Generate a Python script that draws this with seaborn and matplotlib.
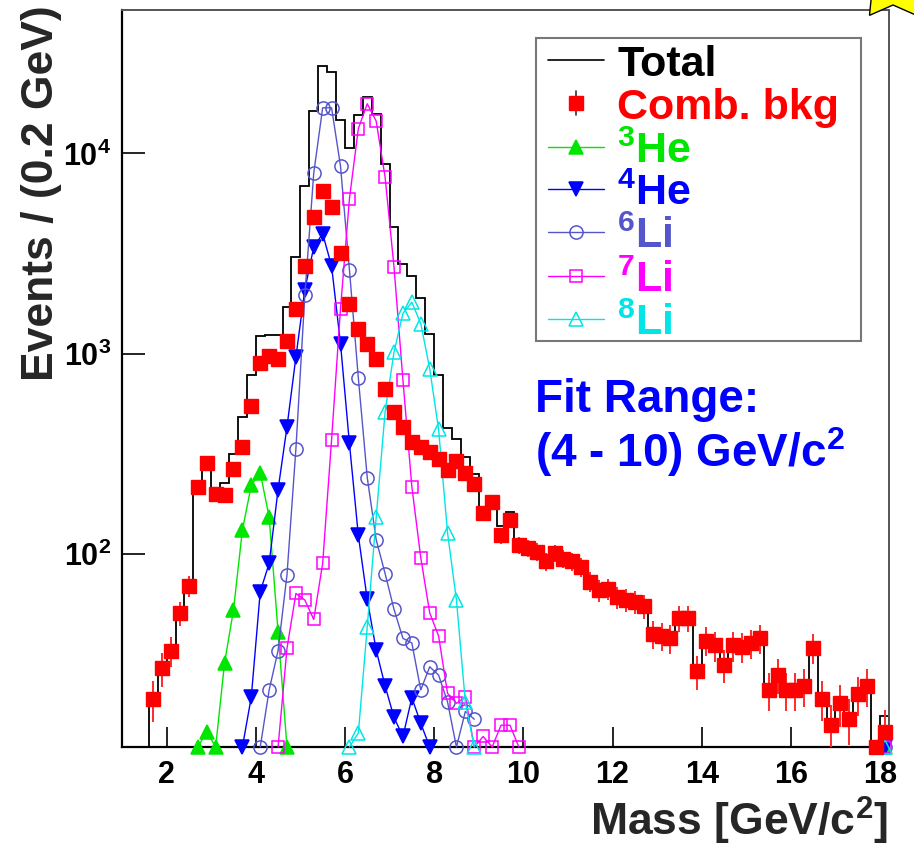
import numpy as np
import matplotlib
matplotlib.use("Agg")
import matplotlib.pyplot as plt
from matplotlib.patches import Rectangle, Polygon
from matplotlib.lines import Line2D
from matplotlib.ticker import LogLocator, FuncFormatter, MultipleLocator, NullFormatter
import seaborn as sns

sns.set_theme(style="white")
plt.rcParams['font.family'] = ['Liberation Sans', 'DejaVu Sans']
plt.rcParams['font.weight'] = 'bold'
plt.rcParams['mathtext.fontset'] = 'custom'
plt.rcParams['mathtext.rm'] = 'Liberation Sans:bold'
plt.rcParams['mathtext.it'] = 'Liberation Sans:bold'
plt.rcParams['mathtext.bf'] = 'Liberation Sans:bold'

# combinatorial background, one value per 0.2 GeV bin, centres 1.7 ... 18.1
bkg = [18.9, 26.9, 33, 50.8, 69.5, 217, 286, 200, 198, 265,
       343, 547, 899, 973, 946, 1158, 1680, 2740, 4820, 6460,
       5400, 3200, 1770, 1336, 1124, 946, 670, 510, 432, 363,
       343, 324, 300, 262, 292, 253, 223, 160, 182, 124,
       148, 111, 107, 103, 92, 101, 95, 92, 86, 73,
       66, 67, 61, 59, 58, 55, 40, 39, 38, 48,
       48, 26, 37, 35, 28, 35, 34.5, 36, 38, 21,
       25, 21, 21, 22, 34, 19, 14, 18, 15, 20,
       22, 8, 13]
first_centre = 1.7
bin_width = 0.2

# signal components (mass bin centre, events); values below the axis floor sit on the axis
he3_mass = [2.7, 2.9, 3.1, 3.3, 3.5, 3.7, 3.9, 4.1, 4.3, 4.5, 4.7, 18.1]
he3 = [6, 13, 6, 28.7, 52.6, 132, 221, 255, 153, 41, 6, 0.5]

he4_mass = [3.7, 3.9, 4.1, 4.3, 4.5, 4.7, 4.9, 5.1, 5.3, 5.5, 5.7, 5.9,
            6.1, 6.3, 6.5, 6.7, 6.9, 7.1, 7.3, 7.5, 7.7, 7.9, 18.1]
he4 = [6, 19.4, 65, 90, 210, 432, 964, 2090, 3410, 3980, 2740, 1124,
       357, 124, 59.4, 33.2, 22, 15.3, 12.3, 19.2, 14.3, 8, 0.5]

li6_mass = [4.1, 4.3, 4.5, 4.7, 4.9, 5.1, 5.3, 5.5, 5.7, 5.9, 6.1, 6.3, 6.5,
            6.7, 6.9, 7.1, 7.3, 7.5, 7.7, 7.9, 8.1, 8.3, 8.5, 8.7, 8.9, 18.1]
li6 = [6, 21, 33, 79, 336, 1960, 7980, 16900, 16900, 8650, 2630, 757, 241,
       118, 80, 53, 38, 36, 21, 27.4, 24.9, 18.3, 6, 16.4, 15, 0.5]

li7_mass = [4.5, 4.7, 4.9, 5.1, 5.3, 5.5, 5.7, 5.9, 6.1, 6.3, 6.5, 6.7, 6.9,
            7.1, 7.3, 7.5, 7.7, 7.9, 8.1, 8.3, 8.5, 8.7, 8.9, 9.1, 9.3, 9.5,
            9.7, 9.9, 18.1]
li7 = [6, 33.9, 63.7, 59, 47.2, 90, 373, 1680, 5940, 13300, 17700, 14500, 7620,
       2710, 738, 217, 96, 51, 39, 20.2, 18, 19.4, 6, 12.3, 6, 14,
       14, 6, 0.5]

li8_mass = [6.1, 6.3, 6.5, 6.7, 6.9, 7.1, 7.3, 7.5, 7.7, 7.9, 8.1, 8.3,
            8.5, 8.7, 8.9, 18.1]
li8 = [6, 12.8, 43.4, 153, 513, 1020, 1590, 1810, 1416, 843, 419, 128,
       59, 18.2, 6, 0.5]

W, H = 914, 847
YMIN, YMAX = 10.9, 5.2e4
XMIN, XMAX = 1.0, 18.2

mass = first_centre + bin_width * np.arange(len(bkg))
edges = first_centre - bin_width / 2 + bin_width * np.arange(len(bkg) + 1)

components = [
    ("$^{3}$He", he3_mass, he3, "#00e600", "^", "#00e600", 10),
    ("$^{4}$He", he4_mass, he4, "#0000ff", "v", "#0000ff", 10),
    ("$^{6}$Li", li6_mass, li6, "#5555cc", "o", "none", 9.5),
    ("$^{7}$Li", li7_mass, li7, "#ff00ff", "s", "none", 9),
    ("$^{8}$Li", li8_mass, li8, "#00e6e6", "^", "none", 10),
]

# total = background + every component, bin by bin
total = np.array(bkg, dtype=float)
for _, m, v, *_rest in components:
    idx = np.rint((np.array(m) - first_centre) / bin_width).astype(int)
    np.add.at(total, idx, v)

fig = plt.figure(figsize=(W / 100, H / 100), dpi=100)
ax = fig.add_axes([122 / W, 1 - 747 / H, 767 / W, 737 / H])
ax.set_yscale('log')
ax.set_xlim(XMIN, XMAX)
ax.set_ylim(YMIN, YMAX)

ax.stairs(total, edges, baseline=YMIN, color='black', lw=1.3, zorder=2)

bkg_arr = np.array(bkg, dtype=float)
bkg_err = np.where(bkg_arr < YMIN, 0, np.sqrt(bkg_arr))
ax.errorbar(mass, bkg_arr, yerr=bkg_err, fmt='none', ecolor='#ff2a2a',
            elinewidth=1.4, capsize=0, zorder=3)
ax.plot(mass, np.clip(bkg_arr, YMIN, None), ls='none', marker='s', ms=10,
        color='#ff0000', clip_on=False, zorder=4)

for label, m, v, col, mk, mfc, ms in components:
    m = np.array(m)
    v = np.clip(np.array(v, dtype=float), YMIN, None)
    # the lone overflow point is not joined to the rest of the curve
    breaks = np.where(np.diff(m) > 1.5 * bin_width)[0] + 1
    for seg_m, seg_v in zip(np.split(m, breaks), np.split(v, breaks)):
        sns.lineplot(x=seg_m, y=seg_v, ax=ax, color=col, lw=1.0, marker=mk, ms=ms,
                     mfc=mfc, mec=col, mew=1.1, estimator=None, clip_on=False, zorder=3)

# axes cosmetics (ROOT look)
for s in ['left', 'bottom']:
    ax.spines[s].set_color('black')
    ax.spines[s].set_linewidth(1.6)
for s in ['top', 'right']:
    ax.spines[s].set_color('#555555')
    ax.spines[s].set_linewidth(1.4)
ax.set_xticks(np.arange(2, 19, 2))
ax.xaxis.set_minor_locator(MultipleLocator(0.5))
ax.yaxis.set_major_locator(LogLocator(base=10, numticks=10))
ax.yaxis.set_minor_locator(LogLocator(base=10, subs=np.arange(2, 10), numticks=20))
ax.yaxis.set_major_formatter(FuncFormatter(lambda v, p: r"$10^{%d}$" % round(np.log10(v))))
ax.yaxis.set_minor_formatter(NullFormatter())
ax.tick_params(bottom=True, left=True, top=False, right=False, direction='in',
               colors='black', width=1.2)
ax.tick_params(axis='x', which='major', length=14.5, pad=9, labelsize=22)
ax.tick_params(axis='x', which='minor', length=7.2)
ax.tick_params(axis='y', which='major', length=16.5, pad=8, labelsize=22)
ax.tick_params(axis='y', which='minor', length=8.6)
ax.set_xlabel("")
ax.set_ylabel("")


def fx(px):
    return px / W


def fy(py):
    return 1 - py / H


fig.text(fx(53), fy(5), "Events / (0.2 GeV)", rotation=90, rotation_mode='anchor',
         ha='right', va='baseline', fontsize=32, fontweight='bold')
fig.text(fx(888), fy(836), "Mass [GeV/c$^{2}$]", ha='right', va='baseline',
         fontsize=32, fontweight='bold')

# legend
fig.add_artist(Rectangle((fx(536), fy(341)), (861 - 536) / W, (341 - 38) / H,
                         transform=fig.transFigure, fill=False, ec='#777777', lw=1.5))
rows = [60, 103, 147, 189, 232, 276, 319]
fig.add_artist(Line2D([fx(548), fx(604)], [fy(rows[0])] * 2, transform=fig.transFigure,
                      color='black', lw=1.2))
fig.text(fx(617), fy(rows[0] + 16), "Total", color='black', fontsize=31, fontweight='bold')
fig.add_artist(Line2D([fx(576), fx(576)], [fy(rows[1] - 12), fy(rows[1] + 12)],
                      transform=fig.transFigure, color='#333333', lw=1.2))
fig.add_artist(Line2D([fx(576)], [fy(rows[1])], transform=fig.transFigure, ls='none',
                      marker='s', ms=10, color='#ff0000'))
fig.text(fx(617), fy(rows[1] + 16), "Comb. bkg", color='#ff0000', fontsize=31,
         fontweight='bold')
for ry, (label, m, v, col, mk, mfc, ms) in zip(rows[2:], components):
    fig.add_artist(Line2D([fx(548), fx(604)], [fy(ry)] * 2, transform=fig.transFigure,
                          color=col, lw=1.0))
    fig.add_artist(Line2D([fx(576)], [fy(ry)], transform=fig.transFigure, ls='none',
                          marker=mk, ms=ms, mfc=mfc, mec=col, mew=1.1))
    fig.text(fx(617), fy(ry + 16), label, color=col, fontsize=31, fontweight='bold')

fig.text(fx(535), fy(412), "Fit Range:", color='#0000ff', fontsize=33, fontweight='bold')
fig.text(fx(535), fy(467), "(4 - 10) GeV/c$^{2}$", color='#0000ff', fontsize=33,
         fontweight='bold')

# yellow star in the top right corner
ang = np.deg2rad(90 + 36 * np.arange(10))
rad = np.where(np.arange(10) % 2 == 0, 40, 22)
star_px = np.column_stack([893 + rad * np.cos(ang), -17 - rad * np.sin(ang)])
fig.add_artist(Polygon(np.column_stack([star_px[:, 0] / W, 1 - star_px[:, 1] / H]),
                       closed=True, transform=fig.transFigure, fc='#ffff00', ec='black',
                       lw=1.0))

fig.savefig("out.png", dpi=100)
